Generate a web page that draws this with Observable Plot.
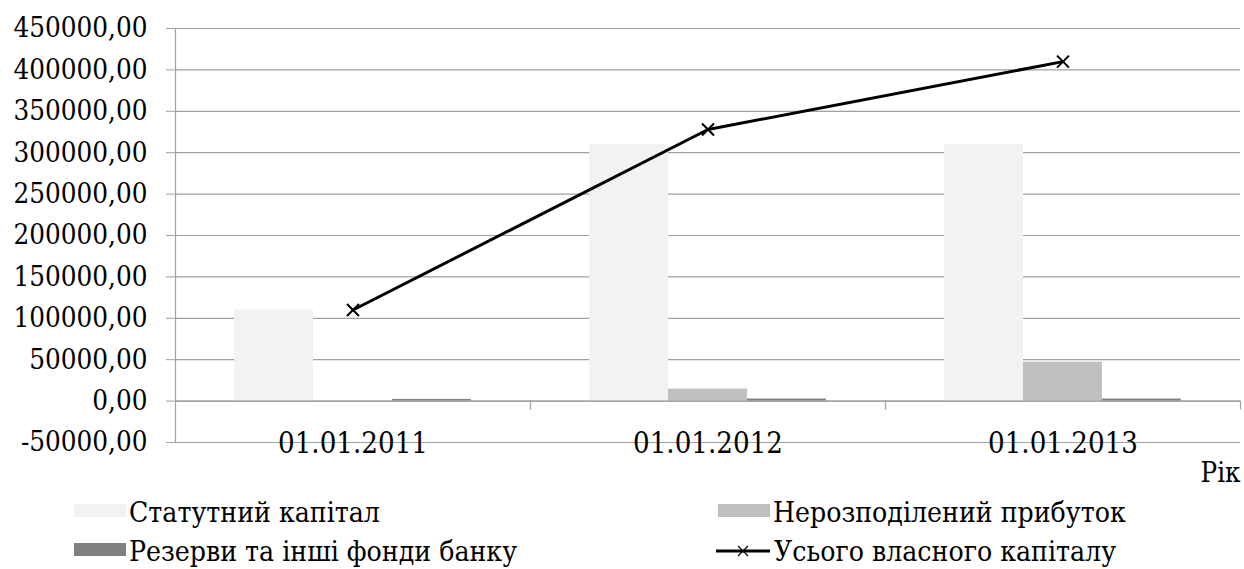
<!DOCTYPE html>
<html>
<head>
<meta charset="utf-8">
<style>
  html body * { font-family: 'DejaVu Serif Condensed', 'Liberation Serif', 'Times New Roman', serif !important; }
</style>
<script src="https://cdn.jsdelivr.net/npm/d3@7"></script>
<script src="https://cdn.jsdelivr.net/npm/@observablehq/plot@0.6"></script>
</head>
<body style="margin:0;background:#fff">
<div id="wrap" style="position:relative;width:1244px;height:569px;">
  <div id="chart"></div>
  <div id="legend"></div>
</div>
<script>
const categories = ["01.01.2011", "01.01.2012", "01.01.2013"];
const seriesNames = ["Статутний капітал", "Нерозподілений прибуток", "Резерви та інші фонди банку"];
const statutory = [110000, 310000, 310000];
const retained = [0, 14500, 47000];
const reserves = [2000, 2500, 2500];
const totalName = "Усього власного капіталу";
const total = [110000, 328000, 410000];
const yTicks = [-50000, 0, 50000, 100000, 150000, 200000, 250000, 300000, 350000, 400000, 450000];
const axisTitle = "Рік";

const FONT = "'DejaVu Serif Condensed', 'Liberation Serif', 'Times New Roman', serif";
const colors = ["#f2f2f2", "#bfbfbf", "#808080"];
const seriesValues = [statutory, retained, reserves];
const fmt = d => d.toFixed(2).replace(".", ",");

// fit font sizes to the widths of the reference texts, whatever font gets used
function fitSize(str, targetWidth) {
  const s = document.createElement("span");
  s.style.cssText = "position:absolute;left:-9999px;top:0;white-space:nowrap;font-size:100px;";
  s.style.setProperty("font-family", FONT, "important");
  s.textContent = str;
  document.body.appendChild(s);
  const w = s.getBoundingClientRect().width;
  s.remove();
  return w > 0 ? 100 * targetWidth / w : 30;
}
const tickSize = fitSize(fmt(450000), 134);
const catSize = fitSize(categories[0], 150);
const legendSize = fitSize(seriesNames[0], 251);
const titleSize = fitSize(axisTitle, 40);

const bars = [];
seriesValues.forEach((vals, k) => {
  vals.forEach((v, i) => {
    const x1 = i - 1/3 + k * (2/9);
    bars.push({x1, x2: x1 + 2/9, y: v, k});
  });
});
const lineData = total.map((v, i) => ({x: i, y: v}));
const catData = categories.map((c, i) => ({x: i, label: c}));

const gridColor = "#a0a0a0";

const chart = Plot.plot({
  width: 1244,
  height: 490,
  marginLeft: 175,
  marginRight: 4,
  marginTop: 28,
  marginBottom: 48,
  style: {fontFamily: FONT, fontSize: tickSize + "px", color: "#000", background: "#fff"},
  x: {domain: [-0.5, 2.5], axis: null},
  y: {domain: [-50000, 450000], ticks: yTicks, label: null, tickFormat: fmt},
  marks: [
    Plot.gridY(yTicks, {stroke: gridColor, strokeOpacity: 1, strokeWidth: 1.2, x1: -0.5, x2: 2.5}),
    Plot.axisY(yTicks, {tickSize: 9, tickPadding: 19, stroke: gridColor, strokeOpacity: 1, tickFormat: fmt, fontSize: tickSize, label: null, fill: "#000"}),
    Plot.ruleX([-0.5], {y1: -50000, y2: 450000, stroke: gridColor, strokeWidth: 1.2}),
    Plot.rectY(bars, {x1: "x1", x2: "x2", y: "y", fill: d => colors[d.k]}),
    Plot.ruleY([0], {stroke: gridColor, strokeWidth: 1.2}),
    Plot.ruleX([0.5, 1.5, 2.5], {y1: 0, y2: 0, insetBottom: -9, stroke: gridColor, strokeWidth: 1.2}),
    Plot.text(catData, {x: "x", y: () => -50000, text: "label", lineAnchor: "middle", dy: 1, fontSize: catSize, fill: "#000"}),
    Plot.line(lineData, {x: "x", y: "y", stroke: "#000", strokeWidth: 3}),
    Plot.dot(lineData, {x: "x", y: "y", symbol: "times", r: 5.5, stroke: "#000", strokeWidth: 2}),
    Plot.text([axisTitle], {frameAnchor: "bottom-right", textAnchor: "end", lineAnchor: "middle", dy: 31, dx: 0, fontSize: titleSize, fill: "#000"})
  ]
});

document.getElementById("chart").appendChild(chart);

// Legend
const legend = document.getElementById("legend");
const legendItems = [
  {name: seriesNames[0], color: colors[0], left: 74, top: 513},
  {name: seriesNames[1], color: colors[1], left: 718, top: 513},
  {name: seriesNames[2], color: colors[2], left: 74, top: 552},
  {name: totalName, line: true, left: 716, top: 552}
];
legendItems.forEach(it => {
  const d = document.createElement("div");
  d.style.cssText = "position:absolute;display:flex;align-items:center;white-space:nowrap;color:#000;height:32px;";
  d.style.fontSize = legendSize + "px";
  d.style.lineHeight = "32px";
  d.style.left = it.left + "px";
  d.style.top = (it.top - 16) + "px";
  if (it.line) {
    const s = document.createElementNS("http://www.w3.org/2000/svg", "svg");
    s.setAttribute("width", 56); s.setAttribute("height", 20);
    s.style.marginRight = "2px";
    s.style.marginTop = "-2px";
    s.innerHTML = '<line x1="0" y1="10" x2="54" y2="10" stroke="#000" stroke-width="3"/>' +
      '<path d="M22,5L32,15M32,5L22,15" stroke="#000" stroke-width="1.2"/>';
    d.appendChild(s);
  } else {
    const s = document.createElement("div");
    s.style.cssText = "width:52px;height:13px;margin-right:3px;margin-top:-6px;";
    s.style.background = it.color;
    d.appendChild(s);
  }
  const t = document.createElement("span");
  t.textContent = it.name;
  d.appendChild(t);
  legend.appendChild(d);
});

document.querySelectorAll("#wrap text, #wrap tspan, #wrap span, #wrap div, #wrap svg").forEach(el => {
  el.style.setProperty("font-family", FONT, "important");
});
</script>
</body>
</html>
